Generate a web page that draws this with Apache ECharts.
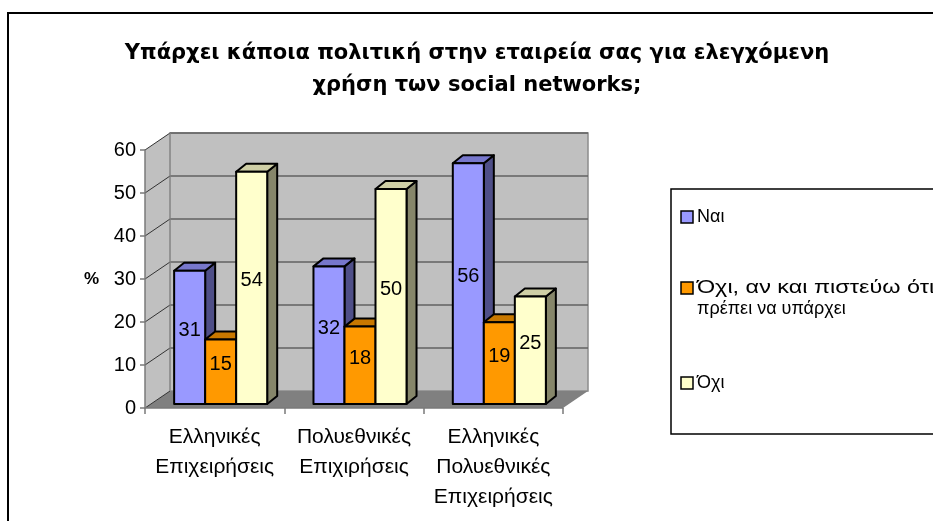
<!DOCTYPE html>
<html>
<head>
<meta charset="utf-8">
<script src="https://cdn.jsdelivr.net/npm/echarts@6/dist/echarts.min.js"></script>
<style>
  html, body { margin: 0; padding: 0; background: #fff; }
  #chart { width: 933px; height: 521px; }
</style>
</head>
<body>
<div id="chart"></div>
<script>
// Data
const categories = ['Ελληνικές\nΕπιχειρήσεις', 'Πολυεθνικές\nΕπιχιρήσεις', 'Ελληνικές\nΠολυεθνικές\nΕπιχειρήσεις'];
const seriesNames = ['Ναι', 'Όχι, αν και πιστεύω ότι πρέπει να υπάρχει', 'Όχι'];
const legendLines = [['Ναι'], ['Όχι, αν και πιστεύω ότι', 'πρέπει να υπάρχει'], ['Όχι']];
const yesValues = [31, 32, 56];
const noButShouldValues = [15, 18, 19];
const noValues = [54, 50, 25];
const yMin = 0, yMax = 60, yStep = 10;
const gridValues = [0, 10, 20, 30, 40, 50, 60];
const titleText = 'Υπάρχει κάποια πολιτική στην εταιρεία σας για ελεγχόμενη\nχρήση των social networks;';

// Face colours per series: front, top, side
const palette = [
  { front: '#9999FF', top: '#7777CC', side: '#4F4F88' },
  { front: '#FF9900', top: '#C87800', side: '#8F5600' },
  { front: '#FFFFCC', top: '#CFCFA6', side: '#86866A' }
];

const FONT = '"Liberation Sans", Arial, sans-serif';
const TITLE_FONT = '"DejaVu Sans", Verdana, sans-serif';
const WALL = [25, -17];      // depth of the back wall
const FRONT = [6, -4];       // bars sit a little behind the front plane
const DEPTH = [10, -8];      // depth of each bar
const BAR_FRAC = 0.2226;     // bar width as share of a category

const chart = echarts.init(document.getElementById('chart'), null, { renderer: 'canvas' });

function wallRenderer(params, api) {
  const cs = params.coordSys;
  const x0 = cs.x, x1 = cs.x + cs.width;
  const y0 = api.coord([0, yMin])[1];
  const yT = api.coord([0, yMax])[1];
  const dx = WALL[0], dy = WALL[1];
  const children = [];
  // left wall
  children.push({ type: 'polygon', shape: { points: [[x0, y0], [x0, yT], [x0 + dx, yT + dy], [x0 + dx, y0 + dy]] },
    style: { fill: '#C0C0C0', stroke: null } });
  // back wall
  children.push({ type: 'rect', shape: { x: x0 + dx, y: yT + dy, width: x1 - x0, height: y0 - yT },
    style: { fill: '#C0C0C0', stroke: '#8C8C8C', lineWidth: 1.5 } });
  // floor
  children.push({ type: 'polygon', shape: { points: [[x0, y0], [x1, y0], [x1 + dx, y0 + dy], [x0 + dx, y0 + dy]] },
    style: { fill: '#808080', stroke: null } });
  gridValues.forEach(function (v) {
    const y = api.coord([0, v])[1];
    if (v > yMin) {
      children.push({ type: 'line', shape: { x1: x0 + dx, y1: y + dy, x2: x1 + dx, y2: y + dy },
        style: { stroke: '#626262', lineWidth: 1.6 } });
    }
    children.push({ type: 'line', shape: { x1: x0, y1: y, x2: x0 + dx, y2: y + dy },
      style: { stroke: '#333333', lineWidth: 1 } });
  });
  // left wall back edge
  children.push({ type: 'line', shape: { x1: x0 + dx, y1: yT + dy, x2: x0 + dx, y2: y0 + dy },
    style: { stroke: '#8C8C8C', lineWidth: 1 } });
  return { type: 'group', children: children };
}

function barRenderer(idx) {
  return function (params, api) {
    const cat = api.value(0), val = api.value(1);
    const top = api.coord([cat, val]);
    const base = api.coord([cat, 0]);
    const catW = api.size([1, 0])[0];
    const bw = catW * BAR_FRAC;
    const xl = top[0] - 1.5 * bw + idx * bw + FRONT[0];
    const xr = xl + bw;
    const yt = top[1] + FRONT[1];
    const yb = base[1] + FRONT[1];
    const c = palette[idx];
    const edge = { stroke: '#000', lineWidth: 2, lineJoin: 'round' };
    return {
      type: 'group',
      children: [
        { type: 'polygon', shape: { points: [[xr, yt], [xr, yb], [xr + DEPTH[0], yb + DEPTH[1]], [xr + DEPTH[0], yt + DEPTH[1]]] },
          style: Object.assign({ fill: c.side }, edge) },
        { type: 'polygon', shape: { points: [[xl, yt], [xr, yt], [xr + DEPTH[0], yt + DEPTH[1]], [xl + DEPTH[0], yt + DEPTH[1]]] },
          style: Object.assign({ fill: c.top }, edge) },
        { type: 'rect', shape: { x: xl, y: yt, width: bw, height: yb - yt },
          style: Object.assign({ fill: c.front }, edge) },
        { type: 'text', style: { text: String(val), x: (xl + xr) / 2, y: (yt + yb) / 2 - 7,
          align: 'center', verticalAlign: 'middle', font: '20px ' + FONT, fill: '#000' } }
      ]
    };
  };
}

const seriesValues = [yesValues, noButShouldValues, noValues];

const series = [{
  type: 'custom', name: 'walls', z: 1, silent: true,
  renderItem: wallRenderer, data: [[0, 0]]
}].concat(seriesValues.map(function (vals, i) {
  return {
    type: 'custom', name: seriesNames[i], z: 2,
    renderItem: barRenderer(i),
    data: vals.map(function (v, k) { return [k, v]; })
  };
}));

// Legend drawn as a boxed list
const legendGraphics = [
  { type: 'rect', shape: { x: 671, y: 189, width: 300, height: 245 },
    style: { fill: '#fff', stroke: '#000', lineWidth: 1.5 } }
];
const legendRows = [217, 288, 383];
legendLines.forEach(function (lines, i) {
  legendGraphics.push({ type: 'rect', shape: { x: 681, y: legendRows[i] - 6, width: 12, height: 12 },
    style: { fill: palette[i].front, stroke: '#000', lineWidth: 1.5 } });
  lines.forEach(function (t, j) {
    // the long first line of the wrapped entry is set wider
    const wide = lines.length > 1 && j === 0;
    legendGraphics.push({ type: 'text', x: 697, y: legendRows[i] + j * 21,
      scaleX: wide ? 1.3 : 1,
      style: { text: t, font: '18px ' + FONT, fill: '#000', verticalAlign: 'middle' } });
  });
});

const option = {
  animation: false,
  backgroundColor: '#fff',
  title: {
    text: titleText, left: 472, top: 33, textAlign: 'center',
    textStyle: { fontFamily: TITLE_FONT, fontSize: 21, fontWeight: 'bold', lineHeight: 32, color: '#000' }
  },
  grid: { left: 145, right: 370, top: 150, bottom: 113, containLabel: false },
  xAxis: {
    type: 'category', data: categories, z: 5,
    axisLine: { lineStyle: { color: '#7A7A7A', width: 1.5 } },
    axisTick: { show: true, length: 6, lineStyle: { color: '#7A7A7A', width: 1.5 } },
    axisLabel: { interval: 0, margin: 14, fontFamily: FONT, fontSize: 21, lineHeight: 30, color: '#000' },
    splitLine: { show: false }
  },
  yAxis: {
    type: 'value', min: yMin, max: yMax, interval: yStep, z: 5,
    name: '%', nameLocation: 'middle', nameGap: 46, nameRotate: 0,
    nameTextStyle: { fontFamily: FONT, fontSize: 17, fontWeight: 'bold', color: '#000', padding: [6, 0, 0, 0] },
    axisLine: { show: true, lineStyle: { color: '#7A7A7A', width: 1.5 } },
    axisTick: { show: true, length: 5, lineStyle: { color: '#7A7A7A', width: 1.5 } },
    axisLabel: { margin: 9, fontFamily: FONT, fontSize: 20, color: '#000' },
    splitLine: { show: false }
  },
  series: series,
  graphic: [
    { type: 'rect', shape: { x: 8, y: 13, width: 1000, height: 600 },
      style: { fill: null, stroke: '#000', lineWidth: 2 }, z: 10, silent: true }
  ].concat(legendGraphics)
};

chart.setOption(option);
</script>
</body>
</html>
